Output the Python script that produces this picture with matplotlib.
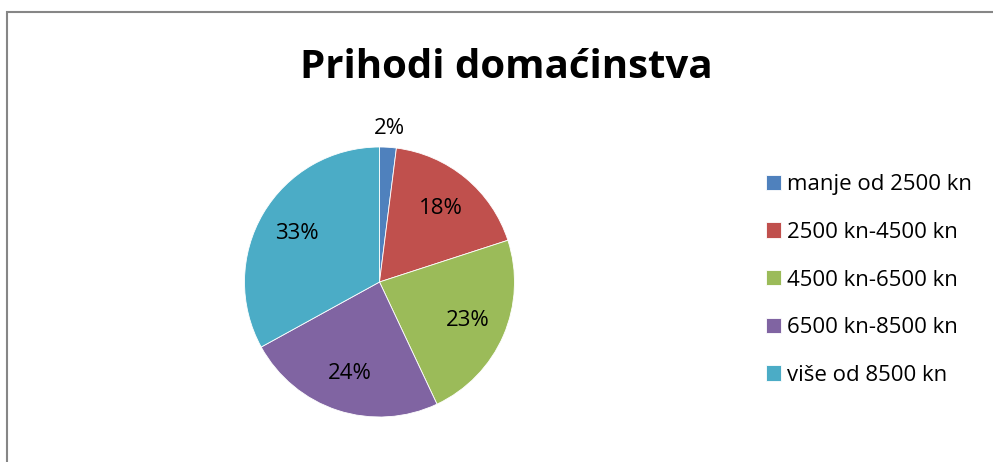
import matplotlib.pyplot as plt
import matplotlib.patches as mpatches
import numpy as np

# data
categories = ['manje od 2500 kn', '2500 kn-4500 kn', '4500 kn-6500 kn',
              '6500 kn-8500 kn', 'više od 8500 kn']
shares = [2, 18, 23, 24, 33]
colors = ['#4F81BD', '#C0504D', '#9BBB59', '#8064A2', '#4BACC6']
title = 'Prihodi domaćinstva'

plt.rcParams['font.family'] = ['Open Sans', 'DejaVu Sans']

W, H = 993, 462
fig = plt.figure(figsize=(W / 100, H / 100), dpi=100)

# chart border (only top and left visible in the crop)
fig.add_artist(mpatches.Rectangle((6.5 / W, -0.1), 1.2, 1 - 12 / H + 0.1,
                                  transform=fig.transFigure, fill=False,
                                  edgecolor='#868686', lw=1.5))

cx, cy, r = 379.5, 282, 135
ax = fig.add_axes([(cx - r) / W, (H - cy - r) / H, 2 * r / W, 2 * r / H])
wedges, _ = ax.pie(shares, colors=colors, startangle=90, counterclock=False,
                   wedgeprops=dict(edgecolor='white', linewidth=0.6))
ax.set_xlim(-1, 1)
ax.set_ylim(-1, 1)
ax.set_aspect('equal')

# percentage labels
total = sum(shares)
cum = 0
for v in shares:
    mid = 90 - 360 * (cum + v / 2) / total
    cum += v
    dist = 1.14 if v / total < 0.05 else 0.71
    x, y = dist * np.cos(np.radians(mid)), dist * np.sin(np.radians(mid))
    ax.text(x, y, f'{v}%', ha='center', va='center', fontsize=16)

fig.text(506 / W, 1 - 68 / H, title, ha='center', va='center',
         fontsize=29, fontweight='bold')

fig.legend(wedges, categories, loc='center left',
           bbox_to_anchor=(755 / W, 1 - 280 / H), frameon=False,
           fontsize=16, handlelength=0.68, handleheight=0.68,
           handletextpad=0.25, labelspacing=1.2, borderpad=0)

plt.savefig('out.png', dpi=100)
